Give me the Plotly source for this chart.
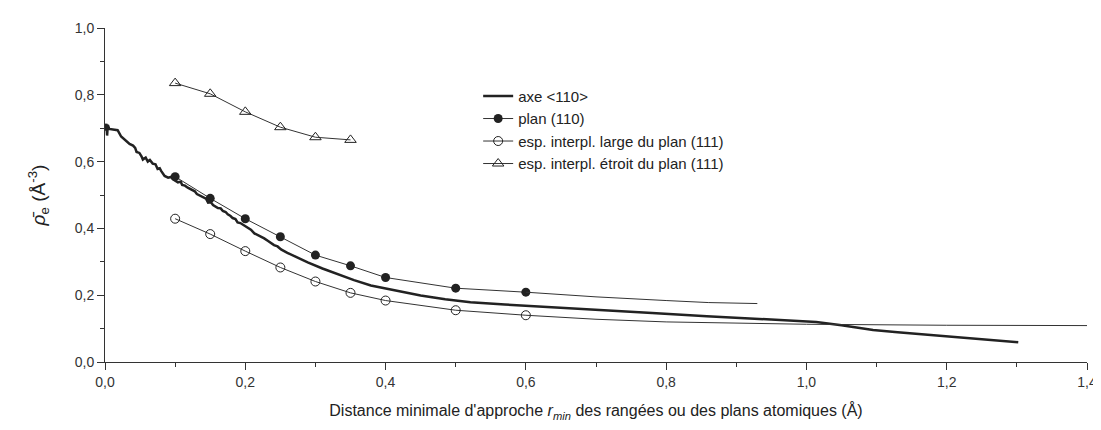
import plotly.graph_objects as go

# axe <110> (continuous curve)
axe_x = [0.0, 0.002, 0.003, 0.004, 0.006, 0.012, 0.018, 0.023, 0.027, 0.030, 0.035, 0.040, 0.043,
         0.045, 0.049, 0.052, 0.054, 0.058, 0.061, 0.064, 0.068, 0.072, 0.075, 0.078, 0.080, 0.085,
         0.090, 0.094, 0.097, 0.104, 0.108, 0.110, 0.114, 0.118, 0.123, 0.128, 0.131, 0.135, 0.140,
         0.144, 0.147, 0.151, 0.154, 0.158, 0.161, 0.165, 0.168, 0.172, 0.175, 0.179, 0.182, 0.186,
         0.189, 0.193, 0.196, 0.200, 0.203, 0.208, 0.213, 0.217, 0.222, 0.227, 0.232, 0.237, 0.241,
         0.246, 0.251, 0.260, 0.270, 0.280, 0.289, 0.310, 0.331, 0.355, 0.379, 0.415, 0.450, 0.485,
         0.521, 0.570, 0.616, 0.700, 0.780, 0.858, 0.940, 1.014, 1.050, 1.095, 1.130, 1.190, 1.250,
         1.302]
axe_y = [0.692, 0.713, 0.678, 0.710, 0.698, 0.697, 0.694, 0.675, 0.668, 0.664, 0.653, 0.648, 0.641,
         0.629, 0.626, 0.616, 0.606, 0.612, 0.600, 0.605, 0.594, 0.592, 0.578, 0.580, 0.572, 0.557,
         0.552, 0.554, 0.547, 0.538, 0.540, 0.530, 0.528, 0.522, 0.516, 0.511, 0.503, 0.498, 0.492,
         0.489, 0.477, 0.478, 0.470, 0.466, 0.461, 0.460, 0.452, 0.449, 0.442, 0.437, 0.431, 0.428,
         0.418, 0.416, 0.412, 0.406, 0.401, 0.396, 0.385, 0.381, 0.374, 0.370, 0.363, 0.356, 0.350,
         0.346, 0.337, 0.327, 0.317, 0.306, 0.298, 0.280, 0.263, 0.245, 0.229, 0.213, 0.199, 0.188,
         0.179, 0.172, 0.167, 0.157, 0.147, 0.137, 0.128, 0.120, 0.110, 0.0956, 0.089, 0.078, 0.068,
         0.059]

# plan (110)
plan_x = [0.1, 0.15, 0.2, 0.25, 0.3, 0.35, 0.4, 0.5, 0.6]
plan_y = [0.555, 0.490, 0.429, 0.375, 0.320, 0.288, 0.253, 0.221, 0.209]
plan_fit_x = [0.6, 0.7, 0.8, 0.86, 0.93]
plan_fit_y = [0.209, 0.195, 0.184, 0.178, 0.175]

# esp. interpl. large du plan (111)
large_x = [0.1, 0.15, 0.2, 0.25, 0.3, 0.35, 0.4, 0.5, 0.6]
large_y = [0.429, 0.383, 0.332, 0.283, 0.241, 0.207, 0.184, 0.155, 0.140]
large_fit_x = [0.6, 0.7, 0.8, 0.9, 1.0, 1.2, 1.4]
large_fit_y = [0.140, 0.128, 0.120, 0.116, 0.113, 0.110, 0.109]

# esp. interpl. étroit du plan (111)
etroit_x = [0.1, 0.15, 0.2, 0.25, 0.3, 0.35]
etroit_y = [0.835, 0.803, 0.749, 0.703, 0.673, 0.665]

x_ticks = [0.0, 0.2, 0.4, 0.6, 0.8, 1.0, 1.2, 1.4]
y_ticks = [0.0, 0.2, 0.4, 0.6, 0.8, 1.0]

DARK = "#222222"
THIN = "#333333"

fig = go.Figure()
fig.add_trace(go.Scatter(x=axe_x, y=axe_y, mode="lines", name="axe &lt;110&gt;",
                         line=dict(color=DARK, width=2.5)))
fig.add_trace(go.Scatter(x=plan_x, y=plan_y, mode="lines+markers", name="plan (110)",
                         line=dict(color=THIN, width=1),
                         marker=dict(symbol="circle", size=9, color=DARK)))
fig.add_trace(go.Scatter(x=plan_fit_x, y=plan_fit_y, mode="lines", showlegend=False,
                         line=dict(color=THIN, width=1)))
fig.add_trace(go.Scatter(x=large_x, y=large_y, mode="lines+markers",
                         name="esp. interpl. large du plan (111)",
                         line=dict(color=THIN, width=1),
                         marker=dict(symbol="circle-open", size=9, color=DARK, line=dict(width=1))))
fig.add_trace(go.Scatter(x=large_fit_x, y=large_fit_y, mode="lines", showlegend=False,
                         line=dict(color=THIN, width=1)))
fig.add_trace(go.Scatter(x=etroit_x, y=etroit_y, mode="lines+markers",
                         name="esp. interpl. étroit du plan (111)",
                         line=dict(color=THIN, width=1),
                         marker=dict(symbol="triangle-up-open", size=10, color=DARK, line=dict(width=1))))

FONT = "Liberation Sans, Arial, sans-serif"
fig.update_layout(
    width=1101, height=430,
    margin=dict(l=97, r=20, t=16, b=76),
    paper_bgcolor="white", plot_bgcolor="white",
    separators=",.",
    font=dict(family=FONT, size=14, color="#333333"),
    showlegend=True,
    legend=dict(x=0.38, y=0.845, xanchor="left", yanchor="top",
                bgcolor="rgba(0,0,0,0)", font=dict(size=15, color="#222222"),
                tracegroupgap=0, itemwidth=30),
    xaxis=dict(range=[0, 1.4], tickvals=x_ticks, tickformat=".1f",
               showgrid=False, zeroline=False, showline=True, linecolor="#333333", linewidth=1,
               ticks="outside", ticklen=7, tickcolor="#333333",
               minor=dict(dtick=0.1, ticks="outside", ticklen=4, tickcolor="#333333"),
               title=dict(text="Distance minimale d'approche <i>r</i><sub><i>min</i></sub> des rangées ou des plans atomiques (Å)",
                          font=dict(size=16, color="#222222"), standoff=16)),
    yaxis=dict(range=[0, 1.0], tickvals=y_ticks, tickformat=".1f",
               showgrid=False, zeroline=False, showline=True, linecolor="#333333", linewidth=1,
               ticks="outside", ticklen=7, tickcolor="#333333",
               minor=dict(dtick=0.1, ticks="outside", ticklen=4, tickcolor="#333333"),
               title=dict(text="<i>ρ̄</i><sub>e</sub> (Å<sup>-3</sup>)",
                          font=dict(size=19, color="#222222"), standoff=24)),
)

fig.write_html("out.html")
